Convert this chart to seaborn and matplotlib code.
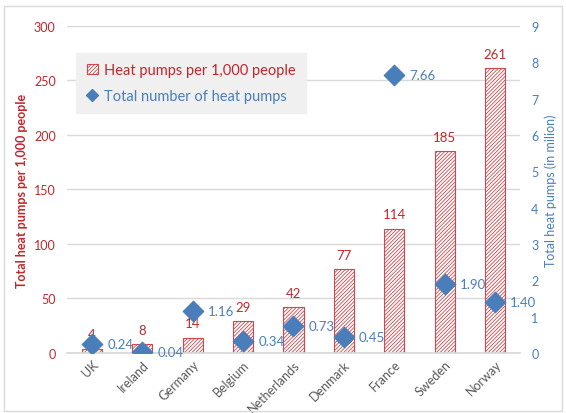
import matplotlib
matplotlib.use("Agg")
import matplotlib.pyplot as plt
import matplotlib.patches as mpatches
from matplotlib.lines import Line2D
import pandas as pd
import seaborn as sns

countries = ["UK", "Ireland", "Germany", "Belgium", "Netherlands",
             "Denmark", "France", "Sweden", "Norway"]
per_1000 = [4, 8, 14, 29, 42, 77, 114, 185, 261]
total_mil = [0.24, 0.04, 1.16, 0.34, 0.73, 0.45, 7.66, 1.90, 1.40]

RED = "#c0272d"
BAR_RED = "#d0484e"
BLUE = "#4a7ebb"
GRID = "#d9d9d9"

sns.set_theme(style="white")
plt.rcParams["font.family"] = ["Lato", "DejaVu Sans"]
plt.rcParams["hatch.color"] = BAR_RED
plt.rcParams["hatch.linewidth"] = 0.6

df = pd.DataFrame({"country": countries, "per_1000": per_1000, "total": total_mil})

fig = plt.figure(figsize=(5.66, 4.14), dpi=100)
ax = fig.add_axes([0.118, 0.145, 0.801, 0.79])
ax2 = ax.twinx()

# bars: heat pumps per 1,000 people (left axis)
sns.barplot(data=df, x="country", y="per_1000", ax=ax, color="white",
            edgecolor=BAR_RED, linewidth=0.8, hatch="/////////", width=0.4,
            saturation=1, zorder=2)
ax.set_ylim(0, 300)
ax.set_yticks(range(0, 301, 50))
ax.grid(axis="y", color=GRID, linewidth=1, zorder=0)
ax.set_axisbelow(True)
ax.set_xlim(-0.5, len(countries) - 0.5)

for i, v in enumerate(per_1000):
    ax.annotate(str(v), (i, v), xytext=(0, 6), textcoords="offset points",
                ha="center", va="bottom", color=RED, fontsize=9.5)

# diamonds: total heat pumps in million (right axis)
sns.scatterplot(data=df, x="country", y="total", ax=ax2, marker="D", s=110,
                color=BLUE, edgecolor=BLUE, zorder=5, legend=False)
ax2.set_ylim(0, 9)
ax2.set_yticks(range(0, 10))
for i, v in enumerate(total_mil):
    ax2.annotate(f"{v:.2f}", (i, v), xytext=(11, 0), textcoords="offset points",
                 ha="left", va="center", color=BLUE, fontsize=9.5)

for a in (ax, ax2):
    for s in a.spines.values():
        s.set_visible(False)
ax.spines["bottom"].set_visible(True)
ax.spines["bottom"].set_color(GRID)

ax.set_xlabel("")
ax.set_ylabel("Total heat pumps per 1,000 people", color=RED, fontsize=9,
              fontweight="bold")
ax2.set_ylabel("Total heat pumps (in milion)", color=BLUE, fontsize=9)
ax.tick_params(axis="y", colors=RED, labelsize=9, length=0, pad=8)
ax2.tick_params(axis="y", colors=BLUE, labelsize=9, length=0, pad=8)
ax.tick_params(axis="x", colors="#595959", labelsize=9, length=0)
plt.setp(ax.get_xticklabels(), rotation=45, ha="right", rotation_mode="anchor")

handles = [
    mpatches.Patch(facecolor="white", edgecolor=BAR_RED, hatch="/////////",
                   linewidth=0.8),
    Line2D([], [], marker="D", linestyle="", color=BLUE, markersize=6),
]
leg = ax2.legend(handles, ["Heat pumps per 1,000 people", "Total number of heat pumps"],
                 loc="upper left", bbox_to_anchor=(0.005, 0.94), fontsize=10.5,
                 frameon=True, facecolor="#f0f0f0", edgecolor="#f0f0f0",
                 fancybox=False, handlelength=0.8, handletextpad=0.4,
                 borderpad=0.7, labelspacing=0.8)
leg.get_frame().set_alpha(1)
leg.texts[0].set_color(RED)
leg.texts[1].set_color(BLUE)

fig.patches.append(mpatches.Rectangle((0.007, 0.005), 0.986, 0.978,
                                      transform=fig.transFigure, fill=False,
                                      edgecolor="#d9d9d9", linewidth=1))

fig.savefig("out.png", dpi=100)
